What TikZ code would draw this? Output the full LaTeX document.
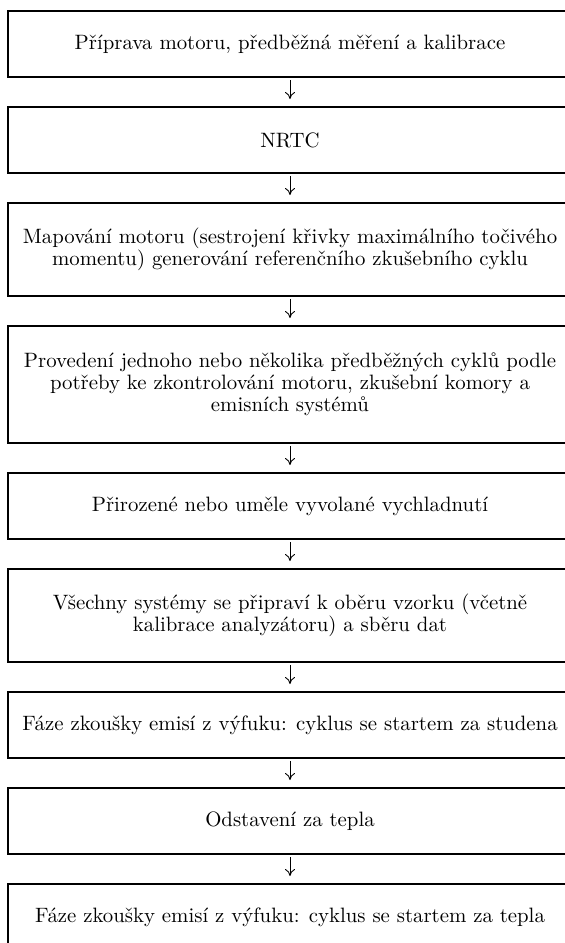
\documentclass[tikz,border=0pt]{standalone}
\usepackage{fontspec}
\usetikzlibrary{positioning,arrows.meta}

\tikzset{
    stage/.style={draw, line width=0.75pt, minimum width=282pt, align=center,
        inner sep=0pt, outer sep=0pt, font=\fontsize{10.4}{11}\selectfont},
    stageone/.style={stage, minimum height=33pt},
    stagetwo/.style={stage, minimum height=46.5pt},
    stagethree/.style={stage, minimum height=58.5pt},
    flow/.style={-{To[length=3.5pt,width=5pt]}, line width=0.45pt,
        shorten <=1.5pt, shorten >=4pt}
}

\begin{document}
\begin{tikzpicture}[x=0.5pt, y=-0.5pt, node distance=15pt]

    % frame
    \useasboundingbox (0,0) rectangle (565,943);
    \clip (0,0) rectangle (565,943);

    % stages
    \node [stageone, anchor=north west] (prep) at (8,11)
        {Příprava motoru, předběžná měření a kalibrace};
    \node [stageone, below=of prep] (nrtc) {NRTC};
    \node [stagetwo, below=of nrtc] (map)
        {Mapování motoru (sestrojení křivky maximálního točivého\\
         momentu) generování referenčního zkušebního cyklu};
    \node [stagethree, below=of map] (precyc)
        {Provedení jednoho nebo několika předběžných cyklů podle\\
         potřeby ke zkontrolování motoru, zkušební komory a\\
         emisních systémů};
    \node [stageone, below=of precyc] (cool)
        {Přirozené nebo uměle vyvolané vychladnutí};
    \node [stagetwo, below=of cool] (ready)
        {Všechny systémy se připraví k oběru vzorku (včetně\\
         kalibrace analyzátoru) a sběru dat};
    \node [stageone, below=of ready] (cold)
        {Fáze zkoušky emisí z výfuku: cyklus se startem za studena};
    \node [stageone, below=of cold] (soak) {Odstavení za tepla};
    \node [stageone, below=of soak] (hot)
        {Fáze zkoušky emisí z výfuku: cyklus se startem za tepla};

    % arrows
    \draw [flow] (prep) -- (nrtc);
    \draw [flow] (nrtc) -- (map);
    \draw [flow] (map) -- (precyc);
    \draw [flow] (precyc) -- (cool);
    \draw [flow] (cool) -- (ready);
    \draw [flow] (ready) -- (cold);
    \draw [flow] (cold) -- (soak);
    \draw [flow] (soak) -- (hot);

\end{tikzpicture}
\end{document}
